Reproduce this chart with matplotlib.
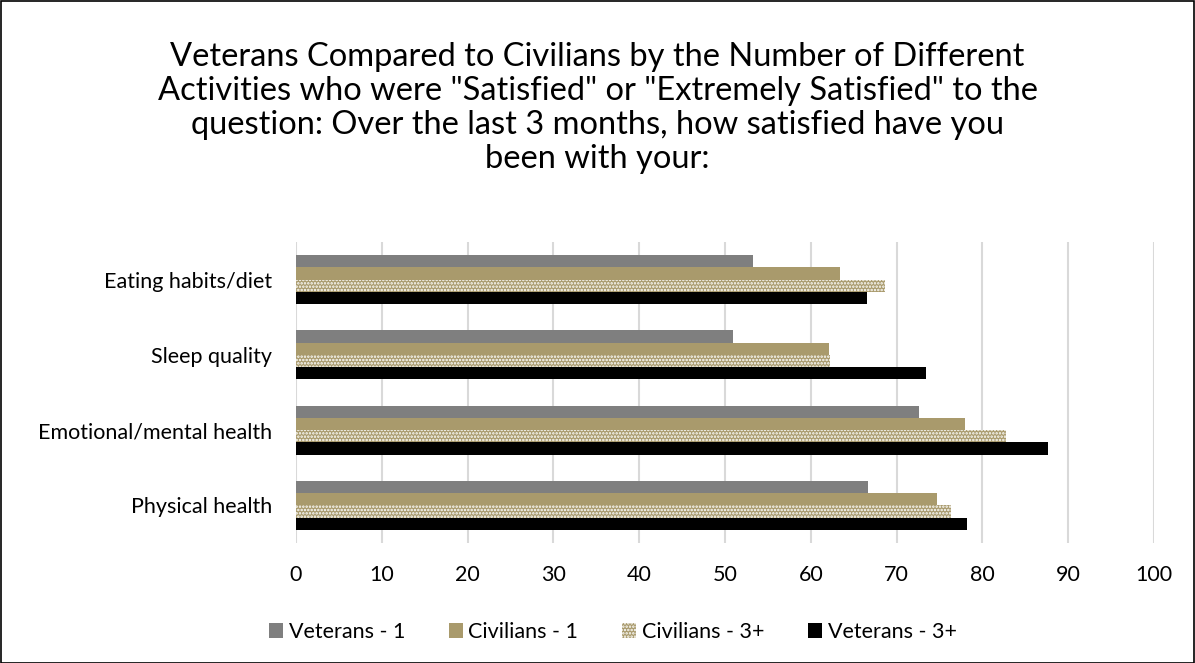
import numpy as np
import matplotlib
matplotlib.use("Agg")
import matplotlib.pyplot as plt
from matplotlib.patches import Rectangle

plt.rcParams["font.family"] = ["Lato", "DejaVu Sans"]
plt.rcParams["hatch.linewidth"] = 1.2

categories = ["Eating habits/diet", "Sleep quality", "Emotional/mental health", "Physical health"]
series = ["Veterans - 1", "Civilians - 1", "Civilians - 3+", "Veterans - 3+"]
vet_1 = [53.3, 50.9, 72.6, 66.7]
civ_1 = [63.4, 62.1, 78.0, 74.7]
civ_3 = [68.7, 62.2, 82.8, 76.3]
vet_3 = [66.5, 73.4, 87.6, 78.2]
values = [vet_1, civ_1, civ_3, vet_3]
colors = ["#7f7f7f", "#a99a6c", "#a99a6c", "#000000"]
title = ('Veterans Compared to Civilians by the Number of Different\n'
         'Activities who were "Satisfied" or "Extremely Satisfied" to the\n'
         'question: Over the last 3 months, how satisfied have you\n'
         'been with your:')

W, H = 1195, 663
fig = plt.figure(figsize=(W / 100, H / 100), dpi=100)
# thin black frame round the whole chart
fig.patches.append(Rectangle((0.5 / W, 0.5 / H), 1 - 1.5 / W, 1 - 1.5 / H, transform=fig.transFigure,
                             fill=False, edgecolor="black", linewidth=1.2))

ax = fig.add_axes([296 / W, 1 - 543 / H, (1154 - 296) / W, (543 - 242) / H])

y = np.arange(len(categories))
bw = 0.163
for i, (name, vals) in enumerate(zip(series, values)):
    off = (i - 1.5) * bw
    if i == 2:
        kw = dict(hatch=".....", edgecolor="white", linewidth=0)
    else:
        kw = dict(edgecolor="none")
    ax.barh(y + off, vals, height=bw, color=colors[i], label=name, zorder=3, **kw)

ax.set_xlim(0, 100)
ax.set_ylim(len(categories) - 0.5, -0.5)
ax.set_xticks(range(0, 101, 10))
ax.set_yticks(y)
ax.set_yticklabels(categories)
ax.tick_params(axis="both", length=0, labelsize=15.5, colors="#000000")
ax.tick_params(axis="x", pad=16)
ax.tick_params(axis="y", pad=17)
ax.grid(axis="x", color="#d9d9d9", linewidth=1.5, zorder=0)
for s in ax.spines.values():
    s.set_visible(False)

fig.text(0.5, 1 - 42 / H, title, ha="center", va="top", fontsize=23.5, linespacing=1.17)

ax.legend(loc="center", bbox_to_anchor=(613 / W, 1 - 632 / H), bbox_transform=fig.transFigure,
          ncol=4, frameon=False, fontsize=15.5, handlelength=0.65, handleheight=0.65,
          handletextpad=0.25, columnspacing=2.05)

fig.savefig("out.png", dpi=100)
